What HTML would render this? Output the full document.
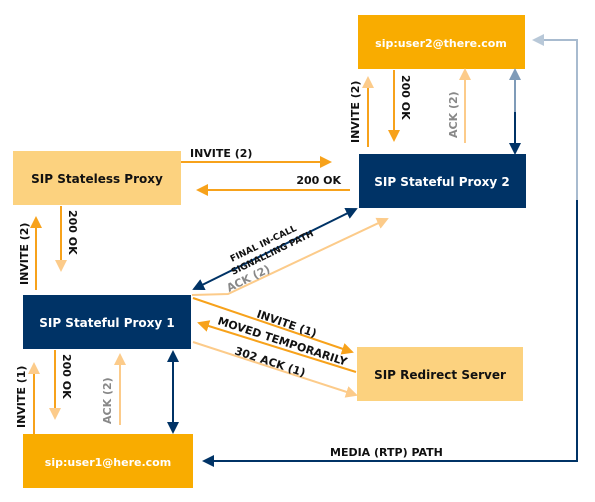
<!DOCTYPE html>
<html><head><meta charset="utf-8"><style>
html,body{margin:0;padding:0;background:#fff}
svg{display:block}
text{font-family:"DejaVu Sans","Liberation Sans",sans-serif;font-weight:bold}
</style></head><body>
<svg width="595" height="502" viewBox="0 0 595 502" xmlns="http://www.w3.org/2000/svg">
<defs>
<marker id="o" markerWidth="12" markerHeight="12" refX="10" refY="6" orient="auto" markerUnits="userSpaceOnUse"><path d="M0,0 L12,6 L0,12 z" fill="#F7A21B"/></marker>
<marker id="l" markerWidth="12" markerHeight="12" refX="10" refY="6" orient="auto" markerUnits="userSpaceOnUse"><path d="M0,0 L12,6 L0,12 z" fill="#FCCB8A"/></marker>
<marker id="n" markerWidth="12" markerHeight="12" refX="10" refY="6" orient="auto" markerUnits="userSpaceOnUse"><path d="M0,0 L12,6 L0,12 z" fill="#003366"/></marker>
<marker id="ns" markerWidth="12" markerHeight="12" refX="10" refY="6" orient="auto-start-reverse" markerUnits="userSpaceOnUse"><path d="M0,0 L12,6 L0,12 z" fill="#003366"/></marker>
<marker id="g" markerWidth="12" markerHeight="12" refX="10" refY="6" orient="auto" markerUnits="userSpaceOnUse"><path d="M0,0 L12,6 L0,12 z" fill="#7F9BB8"/></marker>
<marker id="gb" markerWidth="12" markerHeight="12" refX="10" refY="6" orient="auto" markerUnits="userSpaceOnUse"><path d="M0,0 L12,6 L0,12 z" fill="#B8C8D8"/></marker>
</defs>
<rect x="358" y="15" width="167" height="54" fill="#F9AC00"/>
<text x="441" y="47" fill="#fff" font-size="11" text-anchor="middle">sip:user2@there.com</text>
<rect x="359" y="154" width="167" height="54" fill="#003366"/>
<text x="442" y="186" fill="#fff" font-size="12" text-anchor="middle">SIP Stateful Proxy 2</text>
<rect x="13" y="151" width="168" height="54" fill="#FCD27F"/>
<text x="97" y="183" fill="#111" font-size="12" text-anchor="middle">SIP Stateless Proxy</text>
<rect x="23" y="295" width="168" height="54" fill="#003366"/>
<text x="107" y="327" fill="#fff" font-size="12" text-anchor="middle">SIP Stateful Proxy 1</text>
<rect x="357" y="347" width="166" height="54" fill="#FCD27F"/>
<text x="440" y="379" fill="#111" font-size="12" text-anchor="middle">SIP Redirect Server</text>
<rect x="23" y="434" width="170" height="54" fill="#F9AC00"/>
<text x="108" y="466" fill="#fff" font-size="11" text-anchor="middle">sip:user1@here.com</text>
<polyline points="577,40 577,461 204,461" fill="none" stroke="#003366" stroke-width="2" marker-end="url(#n)"/>
<polyline points="577,200 577,40 534,40" fill="none" stroke="#A8BBCF" stroke-width="2" marker-end="url(#gb)"/>
<text x="330" y="456" font-size="11" fill="#111">MEDIA (RTP) PATH</text>
<line x1="181" y1="162" x2="330" y2="162" stroke="#F7A21B" stroke-width="2" marker-end="url(#o)"/>
<text x="190" y="157" font-size="11" fill="#111">INVITE (2)</text>
<line x1="350" y1="190" x2="198" y2="190" stroke="#F7A21B" stroke-width="2" marker-end="url(#o)"/>
<text x="341" y="184" font-size="11" fill="#111" text-anchor="end">200 OK</text>
<line x1="61" y1="206" x2="61" y2="270" stroke="#F7A21B" stroke-width="2" marker-end="url(#l)"/>
<text transform="translate(69,210) rotate(90)" font-size="11" fill="#111">200 OK</text>
<line x1="36" y1="290" x2="36" y2="218" stroke="#F7A21B" stroke-width="2" marker-end="url(#o)"/>
<text transform="translate(28,285) rotate(-90)" font-size="11" fill="#111">INVITE (2)</text>
<line x1="194" y1="289" x2="356" y2="209" stroke="#003366" stroke-width="2" marker-end="url(#n)" marker-start="url(#ns)"/>
<text transform="translate(232,262) rotate(-26)" font-size="9" fill="#111">FINAL IN-CALL</text>
<text transform="translate(233,275) rotate(-26)" font-size="9" fill="#111">SIGNALLING PATH</text>
<polyline points="192,295 228,294 387,219" fill="none" stroke="#FCCB8A" stroke-width="2" marker-end="url(#l)"/>
<text transform="translate(229,292) rotate(-26)" font-size="11" fill="#888">ACK (2)</text>
<line x1="193" y1="298" x2="352" y2="352" stroke="#F7A21B" stroke-width="2" marker-end="url(#o)"/>
<text transform="translate(256,317) rotate(19)" font-size="11" fill="#111">INVITE (1)</text>
<line x1="356" y1="372" x2="199" y2="323" stroke="#F7A21B" stroke-width="2" marker-end="url(#o)"/>
<text transform="translate(217,324) rotate(18)" font-size="11" fill="#111">MOVED TEMPORARILY</text>
<line x1="193" y1="342" x2="356" y2="395" stroke="#FCCB8A" stroke-width="2" marker-end="url(#l)"/>
<text transform="translate(234,354) rotate(18)" font-size="11" fill="#111">302 ACK (1)</text>
<line x1="55" y1="350" x2="55" y2="418" stroke="#F7A21B" stroke-width="2" marker-end="url(#l)"/>
<text transform="translate(63,354) rotate(90)" font-size="11" fill="#111">200 OK</text>
<line x1="34" y1="434" x2="34" y2="364" stroke="#F7A21B" stroke-width="2" marker-end="url(#l)"/>
<text transform="translate(25,428) rotate(-90)" font-size="11" fill="#111">INVITE (1)</text>
<line x1="120" y1="425" x2="120" y2="355" stroke="#FCCB8A" stroke-width="2" marker-end="url(#l)"/>
<text transform="translate(111,424) rotate(-90)" font-size="11" fill="#888">ACK (2)</text>
<line x1="173" y1="352" x2="173" y2="432" stroke="#003366" stroke-width="2" marker-end="url(#n)" marker-start="url(#ns)"/>
<line x1="368" y1="147" x2="368" y2="78" stroke="#F7A21B" stroke-width="2" marker-end="url(#l)"/>
<text transform="translate(359,143) rotate(-90)" font-size="11" fill="#111">INVITE (2)</text>
<line x1="394" y1="70" x2="394" y2="140" stroke="#F7A21B" stroke-width="2" marker-end="url(#o)"/>
<text transform="translate(402,75) rotate(90)" font-size="11" fill="#111">200 OK</text>
<line x1="465" y1="143" x2="465" y2="70" stroke="#FCCB8A" stroke-width="2" marker-end="url(#l)"/>
<text transform="translate(457,138) rotate(-90)" font-size="11" fill="#888">ACK (2)</text>
<line x1="515" y1="110" x2="515" y2="153" stroke="#003366" stroke-width="2" marker-end="url(#n)"/>
<line x1="515" y1="112" x2="515" y2="70" stroke="#7F9BB8" stroke-width="2" marker-end="url(#g)"/>
</svg>
</body></html>
